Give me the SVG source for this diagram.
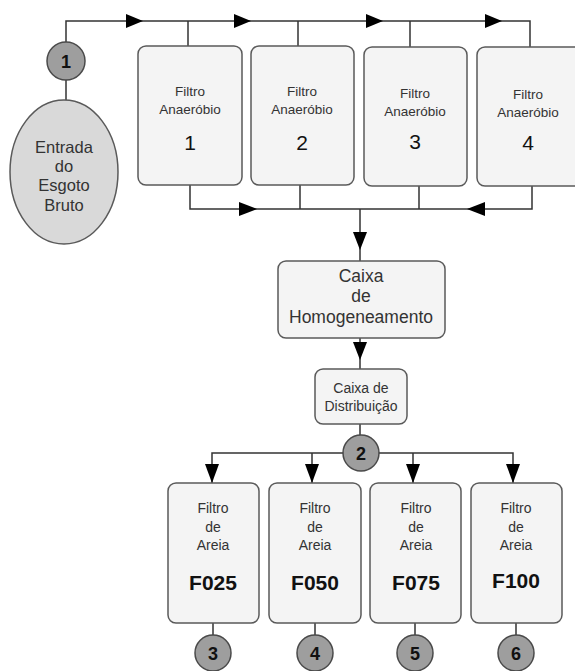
<svg xmlns="http://www.w3.org/2000/svg" width="575" height="671" viewBox="0 0 575 671">
<style>
.box{fill:#f4f4f4;stroke:#5a5a5a;stroke-width:1.5}
.num{fill:#9e9e9e;stroke:#4a4a4a;stroke-width:1.5}
.ln{fill:none;stroke:#333;stroke-width:1.5}
.ar{fill:#000}
text{font-family:"Liberation Sans",Arial,sans-serif;fill:#333;text-anchor:middle}
.s{font-size:13.5px}
.a{font-size:14px}
.m{font-size:16.5px}
.h{font-size:17.5px}
.big{font-size:21px;fill:#111}
.b{font-size:21px;font-weight:bold;fill:#111}
.n{font-size:18px;font-weight:bold;fill:#111}
</style>
<g id="connectors">
<path class="ln" d="M66,42 V21 H530 V47 M188,21 V47 M298,21 V47 M410,21 V47"/>
<path class="ln" d="M66,80 V100"/>
<path class="ln" d="M190,185 V209 H532 V185 M300,185 V209 M419,185 V209 M360,209 V261"/>
<path class="ln" d="M360,338 V369 M360,424 V435"/>
<path class="ln" d="M212,483 V453 H513 V483 M312,453 V483 M413,453 V483"/>
<path class="ln" d="M213,623 V635 M315,623 V635 M415,623 V635 M516,623 V635"/>
<polygon class="ar" points="143,21 126,14 126,28"/>
<polygon class="ar" points="251,21 234,14 234,28"/>
<polygon class="ar" points="383,21 366,14 366,28"/>
<polygon class="ar" points="502,21 485,14 485,28"/>
<polygon class="ar" points="257,209 239,202 239,216"/>
<polygon class="ar" points="467,209 485,202 485,216"/>
<polygon class="ar" points="360,250 353,232 367,232"/>
<polygon class="ar" points="360,360 353,342 367,342"/>
<polygon class="ar" points="212,483 205,464 219,464"/>
<polygon class="ar" points="312,483 305,464 319,464"/>
<polygon class="ar" points="413,483 406,464 420,464"/>
<polygon class="ar" points="513,483 506,464 520,464"/>
</g>
<g id="n1"><circle class="num" cx="66" cy="61" r="19"/><text class="n" x="66" y="68">1</text></g>
<g id="entrada"><ellipse cx="64" cy="172" rx="54" ry="72" fill="#d9d9d9" stroke="#5a5a5a" stroke-width="1.5"/>
<text class="m" x="64" y="153">Entrada</text><text class="m" x="64" y="172">do</text><text class="m" x="64" y="191">Esgoto</text><text class="m" x="64" y="211">Bruto</text></g>
<g id="fa1"><rect class="box" x="138" y="46" width="104" height="139" rx="8"/><text class="s" x="190" y="96">Filtro</text><text class="s" x="190" y="114">Anaeróbio</text><text class="big" x="190" y="150">1</text></g>
<g id="fa2"><rect class="box" x="251" y="46" width="103" height="139" rx="8"/><text class="s" x="302" y="96">Filtro</text><text class="s" x="302" y="114">Anaeróbio</text><text class="big" x="302" y="150">2</text></g>
<g id="fa3"><rect class="box" x="364" y="47" width="103" height="139" rx="8"/><text class="s" x="415" y="98">Filtro</text><text class="s" x="415" y="116">Anaeróbio</text><text class="big" x="415" y="149">3</text></g>
<g id="fa4"><rect class="box" x="477" y="47" width="106" height="139" rx="8"/><text class="s" x="528" y="99">Filtro</text><text class="s" x="528" y="117">Anaeróbio</text><text class="big" x="528" y="150">4</text></g>
<g id="homog"><rect class="box" x="278" y="261" width="167" height="77" rx="8"/><text class="h" x="361" y="282">Caixa</text><text class="h" x="361" y="302">de</text><text class="h" x="361" y="323">Homogeneamento</text></g>
<g id="distrib"><rect class="box" x="315" y="369" width="92" height="55" rx="8"/><text class="a" x="361" y="393">Caixa de</text><text class="a" x="361" y="411">Distribuição</text></g>
<g id="n2"><circle class="num" cx="361" cy="453" r="18"/><text class="n" x="361" y="460">2</text></g>
<g id="fa025"><rect class="box" x="168" y="483" width="91" height="140" rx="8"/><text class="a" x="213" y="513">Filtro</text><text class="a" x="213" y="532">de</text><text class="a" x="213" y="550">Areia</text><text class="b" x="213" y="590">F025</text></g>
<g id="fa050"><rect class="box" x="269" y="483" width="92" height="140" rx="8"/><text class="a" x="315" y="513">Filtro</text><text class="a" x="315" y="532">de</text><text class="a" x="315" y="550">Areia</text><text class="b" x="315" y="590">F050</text></g>
<g id="fa075"><rect class="box" x="370" y="483" width="91" height="140" rx="8"/><text class="a" x="416" y="513">Filtro</text><text class="a" x="416" y="532">de</text><text class="a" x="416" y="550">Areia</text><text class="b" x="416" y="590">F075</text></g>
<g id="fa100"><rect class="box" x="471" y="483" width="91" height="140" rx="8"/><text class="a" x="516" y="513">Filtro</text><text class="a" x="516" y="532">de</text><text class="a" x="516" y="550">Areia</text><text class="b" x="516" y="588">F100</text></g>
<g id="n3"><circle class="num" cx="213" cy="653" r="18"/><text class="n" x="213" y="660">3</text></g>
<g id="n4"><circle class="num" cx="315" cy="653" r="18"/><text class="n" x="315" y="660">4</text></g>
<g id="n5"><circle class="num" cx="415" cy="653" r="18"/><text class="n" x="415" y="660">5</text></g>
<g id="n6"><circle class="num" cx="516" cy="653" r="18"/><text class="n" x="516" y="660">6</text></g>
</svg>
